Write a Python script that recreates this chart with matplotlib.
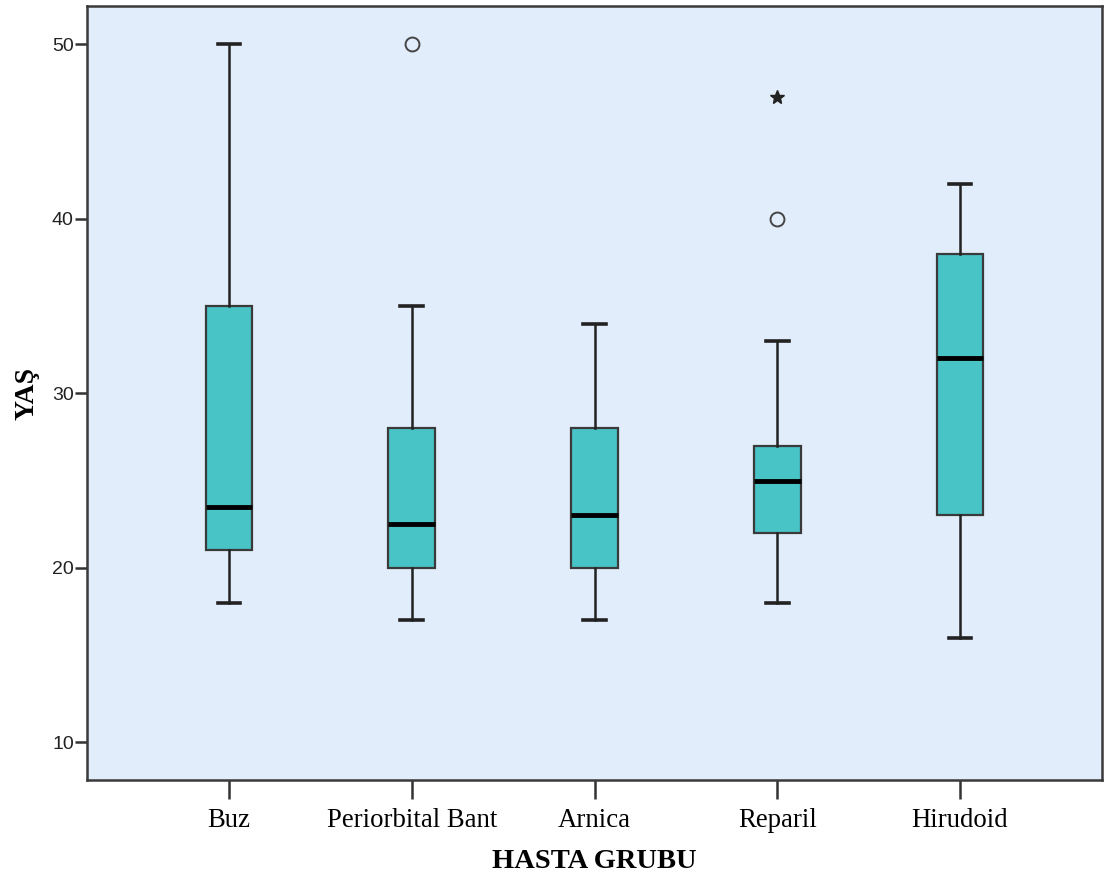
import matplotlib
matplotlib.use("Agg")
import matplotlib.pyplot as plt

categories = ["Buz", "Periorbital Bant", "Arnica", "Reparil", "Hirudoid"]
whislo = [18, 17, 17, 18, 16]
q1 = [21, 20, 20, 22, 23]
med = [23.5, 22.5, 23, 25, 32]
q3 = [35, 28, 28, 27, 38]
whishi = [50, 35, 34, 33, 42]
outliers_circle = [[], [50], [], [40], []]
outliers_star = [[], [], [], [47], []]

fig = plt.figure(figsize=(11.07, 8.81), dpi=100)
ax = fig.add_axes([87/1107, 101/881, (1102-87)/1107, (780-6)/881])
ax.set_facecolor("#E1EDFA")

stats = []
for i, c in enumerate(categories):
    stats.append(dict(label=c, whislo=whislo[i], q1=q1[i], med=med[i],
                      q3=q3[i], whishi=whishi[i], fliers=[]))
pos = list(range(1, len(categories) + 1))
ax.bxp(stats, positions=pos, widths=0.255, patch_artist=True, showfliers=False,
       boxprops=dict(facecolor="#48C3C6", edgecolor="#3a3a3a", linewidth=1.6),
       medianprops=dict(color="black", linewidth=3.5, solid_capstyle="butt"),
       whiskerprops=dict(color="#222222", linewidth=1.8),
       capprops=dict(color="#222222", linewidth=2.6),
       capwidths=0.125, zorder=3)

for i in range(len(categories)):
    for v in outliers_circle[i]:
        ax.plot(pos[i], v, marker="o", markersize=10, markerfacecolor="none",
                markeredgecolor="#444444", markeredgewidth=1.4, zorder=4)
    for v in outliers_star[i]:
        ax.plot(pos[i], v, marker="*", markersize=10, color="#222222", zorder=4)

ax.set_xlim(0.223, 5.777)
ax.set_ylim(7.84, 52.2)
ax.set_yticks([10, 20, 30, 40, 50])
ax.set_xticks(pos)
ax.set_xticklabels(categories, family="Liberation Serif", fontsize=19.3)
for lab in ax.get_yticklabels():
    lab.set_family("Liberation Sans")
    lab.set_fontsize(14)
    lab.set_color("#222222")
ax.tick_params(axis="y", direction="out", length=8.5, width=1.8, color="#333333", pad=1)
ax.tick_params(axis="x", direction="out", length=14, width=1.8, color="#333333", pad=6)
for s in ax.spines.values():
    s.set_linewidth(1.8)
    s.set_color("#3a3a3a")

ax.set_xlabel("HASTA GRUBU", family="Liberation Serif", fontweight="bold", fontsize=20.5, labelpad=12)
ax.set_ylabel("YAŞ", family="Liberation Serif", fontweight="bold", fontsize=20, labelpad=9)

fig.savefig("out.png", dpi=100)
